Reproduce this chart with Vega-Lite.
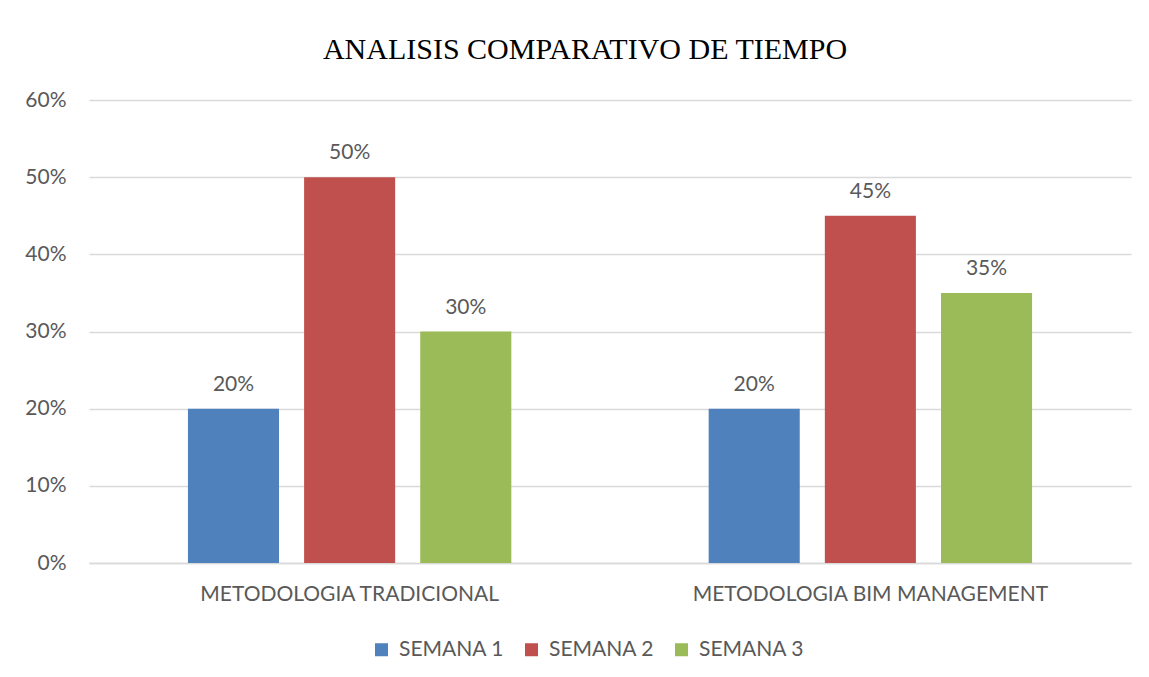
{
  "$schema": "https://vega.github.io/schema/vega-lite/v6.json",
  "width": 1042,
  "height": 463,
  "autosize": {"type": "none"},
  "padding": {"left": 89, "top": 100, "right": 18, "bottom": 114},
  "background": "white",
  "config": {
    "view": {"stroke": null},
    "font": "Lato",
    "text": {"font": "Lato"}
  },
  "title": {
    "text": "ANALISIS COMPARATIVO DE TIEMPO",
    "font": "Liberation Serif",
    "fontSize": 30,
    "fontWeight": "normal",
    "color": "#000000",
    "anchor": "middle",
    "offset": 24,
    "dx": -25
  },
  "data": {
    "values": [
      {"metodologia": "METODOLOGIA TRADICIONAL", "semana": "SEMANA 1", "valor": 0.20},
      {"metodologia": "METODOLOGIA TRADICIONAL", "semana": "SEMANA 2", "valor": 0.50},
      {"metodologia": "METODOLOGIA TRADICIONAL", "semana": "SEMANA 3", "valor": 0.30},
      {"metodologia": "METODOLOGIA BIM MANAGEMENT", "semana": "SEMANA 1", "valor": 0.20},
      {"metodologia": "METODOLOGIA BIM MANAGEMENT", "semana": "SEMANA 2", "valor": 0.45},
      {"metodologia": "METODOLOGIA BIM MANAGEMENT", "semana": "SEMANA 3", "valor": 0.35}
    ]
  },
  "encoding": {
    "x": {
      "field": "metodologia",
      "type": "nominal",
      "sort": ["METODOLOGIA TRADICIONAL", "METODOLOGIA BIM MANAGEMENT"],
      "scale": {"paddingInner": 0.379, "paddingOuter": 0.19},
      "axis": {
        "title": null,
        "labelAngle": 0,
        "labelLimit": 0,
        "domain": true,
        "domainColor": "#D9D9D9",
        "domainWidth": 1.5,
        "ticks": false,
        "labelPadding": 20,
        "labelFont": "Lato",
        "labelFontSize": 21,
        "labelColor": "#595959"
      }
    },
    "xOffset": {
      "field": "semana",
      "type": "nominal",
      "sort": ["SEMANA 1", "SEMANA 2", "SEMANA 3"],
      "scale": {"paddingInner": 0.216, "paddingOuter": 0}
    },
    "y": {
      "field": "valor",
      "type": "quantitative",
      "scale": {"domain": [0, 0.6]},
      "axis": {
        "title": null,
        "format": ".0%",
        "values": [0, 0.1, 0.2, 0.3, 0.4, 0.5, 0.6],
        "domain": false,
        "ticks": false,
        "grid": true,
        "gridColor": "#D9D9D9",
        "gridWidth": 1.5,
        "labelPadding": 23,
        "labelFont": "Lato",
        "labelFontSize": 21,
        "labelColor": "#595959"
      }
    }
  },
  "layer": [
    {
      "mark": {"type": "bar"},
      "encoding": {
        "color": {
          "field": "semana",
          "type": "nominal",
          "sort": ["SEMANA 1", "SEMANA 2", "SEMANA 3"],
          "scale": {"domain": ["SEMANA 1", "SEMANA 2", "SEMANA 3"], "range": ["#4F81BD", "#C0504D", "#9BBB59"]},
          "legend": {
            "orient": "none",
            "legendX": 282,
            "legendY": 539,
            "direction": "horizontal",
            "title": null,
            "symbolType": "square",
            "symbolSize": 169,
            "symbolStrokeWidth": 0,
            "labelFont": "Lato",
            "labelFontSize": 21,
            "labelColor": "#595959",
            "labelOffset": 7,
            "columnPadding": 16
          }
        }
      }
    },
    {
      "mark": {"type": "text", "dy": -18, "baseline": "alphabetic", "font": "Lato", "fontSize": 21, "color": "#595959"},
      "encoding": {
        "text": {"field": "valor", "type": "quantitative", "format": ".0%"}
      }
    }
  ]
}
